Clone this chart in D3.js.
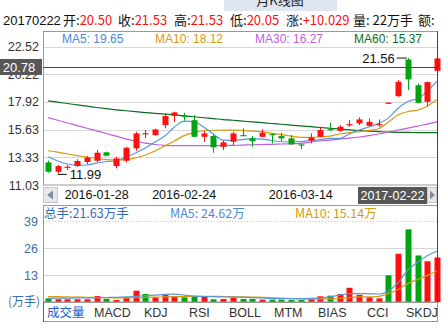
<!DOCTYPE html>
<html><head><meta charset="utf-8">
<script src="https://cdn.jsdelivr.net/npm/d3@7"></script>
<style>body{margin:0;background:#fff;} svg{display:block;font-family:"Liberation Sans",Arial,sans-serif;}</style>
</head><body><svg id="c" width="448" height="330"></svg>
<script>
// ---- data ----
const openP  = [12.90,12.13,12.50,12.60,12.94,13.04,13.74,12.60,13.04,14.07,15.28,15.17,16.00,16.77,16.79,16.41,15.03,15.09,14.20,14.62,15.17,14.90,15.03,15.26,15.09,14.90,14.40,14.70,15.03,15.67,15.53,16.04,16.14,15.94,16.04,17.83,18.40,21.44,19.31,17.93,20.50];
const closeP = [12.13,12.60,12.55,13.02,13.29,13.71,13.46,13.24,14.12,15.31,15.33,15.64,16.75,17.05,16.75,15.03,15.31,14.15,14.57,15.31,15.12,14.67,15.36,15.22,14.90,14.40,14.37,14.98,15.59,15.63,15.86,16.08,16.47,16.27,16.08,17.86,19.59,19.79,17.85,19.57,21.53];
const highP  = [13.05,12.69,12.69,13.16,13.43,13.93,13.80,13.37,14.20,15.45,15.59,15.70,16.97,17.10,17.02,16.83,15.50,15.23,14.70,15.45,15.73,15.09,15.64,15.28,15.36,15.17,14.42,15.31,15.86,16.19,16.00,16.41,16.64,16.56,16.47,17.90,19.73,21.56,19.45,19.59,21.53];
const lowP   = [12.05,11.99,12.27,12.55,12.77,12.94,13.42,12.41,12.91,13.87,14.92,15.12,15.73,16.27,16.36,14.98,14.62,13.71,13.93,14.34,15.10,14.20,14.98,14.48,14.67,14.34,13.99,14.48,15.03,15.53,15.45,15.86,16.00,15.86,15.86,17.82,18.34,18.90,17.80,17.57,20.05];
const ma5  = [13.37,13.02,12.77,12.65,12.69,12.85,12.98,13.02,13.35,13.68,14.10,14.59,15.09,15.84,16.33,16.29,15.84,15.26,14.76,14.72,14.80,14.88,14.84,14.72,14.62,14.62,14.63,14.72,14.80,14.90,14.90,15.26,15.59,15.84,16.14,16.58,17.40,17.95,18.21,18.80,19.65];
const ma10 = [13.87,13.76,13.60,13.47,13.35,13.23,13.14,13.10,13.13,13.27,13.52,13.85,14.26,14.68,15.13,15.38,15.53,15.57,15.59,15.59,15.55,15.50,15.45,15.34,15.21,15.09,14.98,14.98,15.03,15.09,15.26,15.38,15.46,15.56,15.70,16.25,16.85,17.12,17.24,17.57,18.12];
const ma30 = [16.62,16.40,16.17,15.96,15.74,15.52,15.30,15.08,14.86,14.66,14.51,14.39,14.32,14.30,14.30,14.30,14.30,14.30,14.30,14.32,14.34,14.37,14.39,14.40,14.43,14.45,14.48,14.59,14.68,14.76,14.84,14.92,15.01,15.13,15.26,15.42,15.59,15.75,15.92,16.08,16.27];
const ma60 = [18.01,17.91,17.79,17.67,17.57,17.46,17.36,17.27,17.19,17.11,17.04,16.98,16.91,16.84,16.76,16.69,16.61,16.54,16.46,16.40,16.33,16.27,16.20,16.13,16.07,16.00,15.93,15.87,15.80,15.74,15.67,15.60,15.55,15.50,15.46,15.42,15.40,15.39,15.38,15.37,15.37];
const volume = [1.9,1.45,1.45,1.45,1.45,3.0,1.6,1.1,2.4,5.6,4.0,2.4,3.5,3.0,2.4,2.7,2.7,1.45,1.6,2.1,1.6,1.6,1.3,1.3,1.3,1.1,1.1,1.9,2.9,3.2,4.0,7.0,3.6,2.4,1.9,13.0,23.4,35.2,22.6,19.8,21.63];
const volUp  = [0,1,1,1,1,1,0,1,1,1,0,1,1,1,0,0,1,0,1,1,0,0,1,0,0,0,0,1,1,0,1,1,1,1,1,0,1,0,0,1,1];
const volMa5  = [1.9,2.0,2.0,2.1,2.1,2.2,2.3,2.4,2.6,2.9,3.2,3.5,3.8,3.9,3.5,3.0,2.8,2.7,2.6,2.5,2.4,2.3,2.1,1.9,1.8,1.8,1.8,1.9,2.1,2.6,3.5,4.2,4.2,4.1,4.0,5.5,9.5,15.5,19.3,22.5,24.62];
const volMa10 = [2.7,2.7,2.6,2.5,2.4,2.3,2.2,2.1,2.1,2.2,2.4,2.5,2.6,2.7,2.8,2.9,2.9,2.9,2.8,2.7,2.6,2.5,2.4,2.2,2.0,1.8,1.6,1.5,1.5,1.7,1.9,2.3,2.6,2.6,2.9,4.2,6.2,9.0,11.0,13.0,15.14];
const priceTicks = [22.52,20.22,17.92,15.63,13.33,11.03];
const volTicks = [39,26,13];
const dateLabels = ["2016-01-28","2016-02-24","2016-03-14"];
const dateLabelIdx = [5,14,26];
const crossDate = "2017-02-22";
const crossPrice = 20.78;
const tabs = ["成交量","MACD","KDJ","RSI","BOLL","MTM","BIAS","CCI","SKDJ"];
const infoDate = "20170222";
const infoItems = [["开:","20.50"],["收:","21.53"],["高:","21.53"],["低:","20.05"],["涨:","+10.029"],["量:"," 22万手"],["额:",""]];
const maLegend = [["MA5: 19.65","#4a8ad8"],["MA10: 18.12","#d69a10"],["MA30: 16.27","#c060d8"],["MA60: 15.37","#0a6e1e"]];

// ---- drawing ----
const RED="#ff1010", GREEN="#00a410";
const svg=d3.select('#c');
const L=43, R=437;
const n=openP.length;
const x=d3.scaleLinear().domain([0,n-1]).range([48,437]);
const y=d3.scaleLinear().domain([11.03,22.52]).range([185,46.5]);
const yv=d3.scaleLinear().domain([0,39]).range([302.3,221.5]);
const CJK='"Noto Sans CJK SC","Liberation Sans",Arial,sans-serif';

// title tab
svg.append('rect').attr('x',224).attr('y',0).attr('width',113).attr('height',11).attr('fill','#dde6f1');
svg.append('text').attr('x',280).attr('y',5).attr('text-anchor','middle').attr('font-size',13).attr('font-family',CJK).attr('fill','#222').text('月K线图');

// info line
const info=svg.append('text').attr('y',25).attr('font-size',13).attr('font-family',CJK);
const infoX=[63,118,174,230,286,353,418];
svg.append('text').attr('x',3).attr('y',25).attr('font-size',13).attr('fill','#111').text(infoDate);
infoItems.forEach((d,i)=>{
  const t=svg.append('text').attr('x',infoX[i]).attr('y',25).attr('font-size',13).attr('font-family',CJK);
  t.append('tspan').attr('fill','#111').text(d[0]);
  t.append('tspan').attr('fill', i===5?'#111':RED).text(d[1]);
});

// main panel grid
svg.selectAll('.g').data(priceTicks.slice(0,5)).enter().append('line')
  .attr('x1',L).attr('x2',R).attr('y1',d=>Math.round(y(d))+0.5).attr('y2',d=>Math.round(y(d))+0.5)
  .attr('stroke','#d8d8d8');
svg.selectAll('.yl').data(priceTicks).enter().append('text')
  .attr('x',39).attr('y',d=>y(d)).attr('dy','0.36em').attr('text-anchor','end')
  .attr('font-size',12.5).attr('fill','#333').text(d=>d.toFixed(2));

// box
svg.append('rect').attr('x',L+0.5).attr('y',31.5).attr('width',R-L).attr('height',153.5).attr('fill','none').attr('stroke','#999');

// MA legend
const legX=[62,155,255,354];
maLegend.forEach((d,i)=>svg.append('text').attr('x',legX[i]).attr('y',43).attr('font-size',12).attr('fill',d[1]).text(d[0]));

// MA lines
const line=(arr,sc)=>d3.line().x((d,i)=>x(i)).y(d=>sc(d)).curve(d3.curveMonotoneX)(arr);
[[ma60,'#0a6e1e'],[ma30,'#c060d8'],[ma10,'#d69a10'],[ma5,'#5a96dc']].forEach(([a,c])=>{
  svg.append('path').attr('d',line(a,y)).attr('fill','none').attr('stroke',c).attr('stroke-width',1.2);
});

// candles
const cg=svg.append('g');
d3.range(n).forEach(i=>{
  const up=closeP[i]>=openP[i];
  const col=up?RED:GREEN;
  const cx=Math.round(x(i));
  cg.append('line').attr('x1',cx+0.5).attr('x2',cx+0.5).attr('y1',y(highP[i])).attr('y2',y(lowP[i])).attr('stroke',col);
  const top=y(Math.max(openP[i],closeP[i])), bot=y(Math.min(openP[i],closeP[i]));
  cg.append('rect').attr('x',cx-2.5).attr('width',6).attr('y',top).attr('height',Math.max(1.2,bot-top)).attr('fill',col);
});

// low / high markers
const iLow=d3.minIndex(lowP), iHigh=d3.maxIndex(highP);
svg.append('line').attr('x1',x(iLow)).attr('x2',x(iLow)+9).attr('y1',y(lowP[iLow])+1).attr('y2',y(lowP[iLow])+1).attr('stroke','#111');
svg.append('text').attr('x',x(iLow)+12).attr('y',y(lowP[iLow])+1).attr('dy','0.36em').attr('font-size',13).attr('fill','#111').text(lowP[iLow].toFixed(2));
svg.append('line').attr('x1',x(iHigh)-11).attr('x2',x(iHigh)-1).attr('y1',y(highP[iHigh])).attr('y2',y(highP[iHigh])).attr('stroke','#111');
svg.append('text').attr('x',x(iHigh)-13).attr('y',y(highP[iHigh])).attr('dy','0.36em').attr('text-anchor','end').attr('font-size',13).attr('fill','#111').text(highP[iHigh].toFixed(2));

// crosshair
const cy=Math.round(y(crossPrice))+0.5;
svg.append('line').attr('x1',L).attr('x2',R).attr('y1',cy).attr('y2',cy).attr('stroke','#444');
svg.append('rect').attr('x',0).attr('y',cy-8.5).attr('width',42).attr('height',16).attr('fill','#575757');
svg.append('text').attr('x',19).attr('y',cy).attr('dy','0.36em').attr('text-anchor','middle').attr('font-size',13).attr('fill','#fff').text(crossPrice.toFixed(2));

// date row
svg.append('rect').attr('x',43.5).attr('y',187.5).attr('width',14).attr('height',15).attr('fill','#e6e8eb').attr('stroke','#c4c8cc');
svg.append('path').attr('d','M53,190.5L53,199.5L47,195Z').attr('fill','#7d8ea3');
dateLabels.forEach((d,k)=>svg.append('text').attr('x',x(dateLabelIdx[k])).attr('y',199).attr('text-anchor','middle').attr('font-size',12.5).attr('fill','#111').text(d));
svg.append('rect').attr('x',358).attr('y',187).attr('width',69).attr('height',17).attr('fill','#575757');
svg.append('text').attr('x',392.5).attr('y',199.5).attr('text-anchor','middle').attr('font-size',12.5).attr('fill','#fff').text(crossDate);
svg.append('rect').attr('x',427.5).attr('y',187.5).attr('width',9).attr('height',15).attr('fill','#e6e8eb').attr('stroke','#c4c8cc');
svg.append('path').attr('d','M430,190.5L430,199.5L435,195Z').attr('fill','#8a8a8a');

// volume panel
svg.append('line').attr('x1',L).attr('x2',R).attr('y1',221.5).attr('y2',221.5).attr('stroke','#c8c8c8').attr('stroke-dasharray','1,2');
volTicks.slice(1).forEach(v=>svg.append('line').attr('x1',L).attr('x2',R).attr('y1',Math.round(yv(v))+0.5).attr('y2',Math.round(yv(v))+0.5).attr('stroke','#d8d8d8'));
svg.selectAll('.vl').data(volTicks).enter().append('text')
  .attr('x',38).attr('y',d=>yv(d)).attr('dy','0.36em').attr('text-anchor','end')
  .attr('font-size',12.5).attr('fill','#3a6ea8').text(d=>d);
svg.append('text').attr('x',40).attr('y',302).attr('dy','0.36em').attr('text-anchor','end').attr('font-size',12).attr('font-family',CJK).attr('fill','#3a6ea8').text('(万手)');

d3.range(n).forEach(i=>{
  const cx=Math.round(x(i));
  svg.append('rect').attr('x',cx-2.5).attr('width',6).attr('y',yv(volume[i])).attr('height',yv(0)-yv(volume[i])).attr('fill',volUp[i]?RED:GREEN);
});
[[volMa10,'#d69a10'],[volMa5,'#5a96dc']].forEach(([a,c])=>{
  svg.append('path').attr('d',line(a,yv)).attr('fill','none').attr('stroke',c).attr('stroke-width',1.2);
});
svg.append('rect').attr('x',L+0.5).attr('y',205.5).attr('width',R-L).attr('height',96.5).attr('fill','none').attr('stroke','#999');

svg.append('text').attr('x',44).attr('y',218).attr('font-size',12.5).attr('font-family',CJK).attr('fill','#2f6cb8').text('总手:21.63万手');
svg.append('text').attr('x',170).attr('y',218).attr('font-size',12.5).attr('font-family',CJK).attr('fill','#4a8ad8').text('MA5: 24.62万');
svg.append('text').attr('x',295).attr('y',218).attr('font-size',12.5).attr('font-family',CJK).attr('fill','#d69a10').text('MA10: 15.14万');

// vertical crosshair
svg.append('line').attr('x1',x(n-1)+0.5).attr('x2',x(n-1)+0.5).attr('y1',31).attr('y2',302).attr('stroke','#444');

// tab row
svg.append('rect').attr('x',L+0.5).attr('y',302.5).attr('width',R-L).attr('height',19).attr('fill','none').attr('stroke','#999');
svg.append('line').attr('x1',L+0.5).attr('x2',L+0.5).attr('y1',302).attr('y2',322).attr('stroke','#2f6cb8').attr('stroke-width',1);
const tabX=[47,94,144,189,229,274,318,367,406];
tabs.forEach((t,i)=>svg.append('text').attr('x',tabX[i]).attr('y',317).attr('font-size',12.5).attr('font-family',i===0?CJK:'"Liberation Sans",Arial,sans-serif').attr('fill',i===0?'#1a62c8':'#333').text(t));
</script></body></html>
